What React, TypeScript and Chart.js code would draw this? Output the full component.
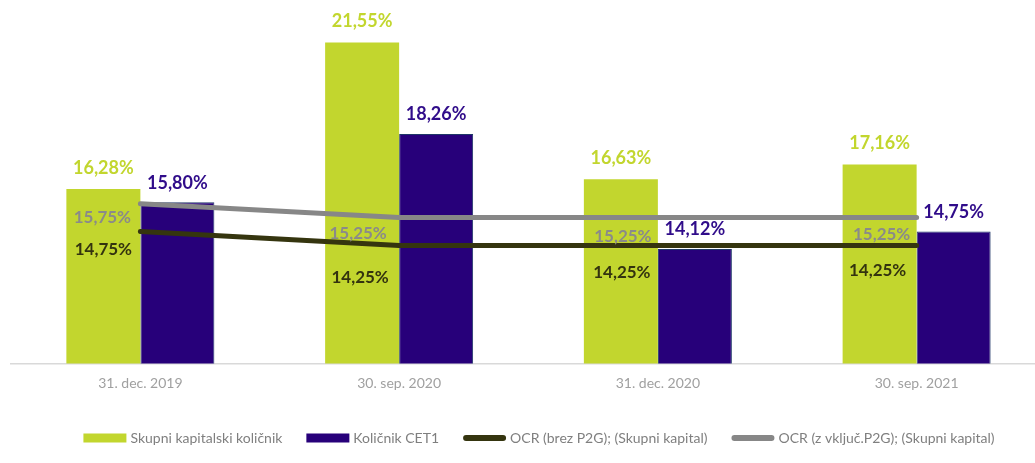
import React, { useEffect, useRef } from 'react';
import { Chart, registerables } from 'chart.js';

Chart.register(...registerables);

const categories = ['31. dec. 2019', '30. sep. 2020', '31. dec. 2020', '30. sep. 2021'];
const skupniKapitalski = [16.28, 21.55, 16.63, 17.16];
const kolicnikCET1 = [15.8, 18.26, 14.12, 14.75];
const ocrBrezP2G = [14.75, 14.25, 14.25, 14.25];
const ocrVkljP2G = [15.75, 15.25, 15.25, 15.25];
const yAxisMin = 10;
const yAxisMax = 22;

const FONT = 'Lato, "Open Sans", sans-serif';
const GREEN = '#c2d62e';
const BLUE = '#27007a';
const GRAY = '#878787';
const DARK = '#35350f';

const fmt = (v: number) => v.toFixed(2).replace('.', ',') + '%';

const valueLabels = {
  id: 'valueLabels',
  afterDatasetsDraw(chart: any, _args: any, opts: any) {
    const ctx = chart.ctx;
    const styles = opts.styles || [];
    chart.data.datasets.forEach((ds: any, di: number) => {
      const st = styles[di];
      const meta = chart.getDatasetMeta(di);
      if (!st || meta.hidden) return;
      meta.data.forEach((el: any, i: number) => {
        const v = ds.data[i];
        const off = st.offsets ? st.offsets[i] : [0, st.dy];
        ctx.save();
        ctx.font = st.font;
        ctx.fillStyle = st.color;
        ctx.textAlign = 'center';
        ctx.textBaseline = 'middle';
        ctx.fillText(fmt(v), el.x + off[0], el.y + off[1]);
        ctx.restore();
      });
    });
  },
};

const bottomLegend = {
  id: 'bottomLegend',
  afterDraw(chart: any, _args: any, opts: any) {
    const ctx = chart.ctx;
    ctx.save();
    ctx.font = opts.font;
    const items = chart.data.datasets.map((ds: any) => ({
      text: ds.label,
      color: ds.type === 'line' ? ds.borderColor : ds.backgroundColor,
      line: ds.type === 'line',
    }));
    const widths = items.map((it: any) => opts.boxWidth + opts.textGap + ctx.measureText(it.text).width);
    const total = widths.reduce((a: number, b: number) => a + b, 0) + opts.itemGap * (items.length - 1);
    let x = opts.centerX - total / 2;
    items.forEach((it: any, i: number) => {
      if (it.line) {
        ctx.strokeStyle = it.color;
        ctx.lineWidth = opts.lineHeight;
        ctx.lineCap = 'round';
        ctx.beginPath();
        ctx.moveTo(x + opts.lineHeight / 2, opts.y);
        ctx.lineTo(x + opts.boxWidth - opts.lineHeight / 2, opts.y);
        ctx.stroke();
      } else {
        ctx.fillStyle = it.color;
        ctx.fillRect(x, opts.y - opts.boxHeight / 2, opts.boxWidth, opts.boxHeight);
      }
      ctx.fillStyle = opts.color;
      ctx.textAlign = 'left';
      ctx.textBaseline = 'middle';
      ctx.fillText(it.text, x + opts.boxWidth + opts.textGap, opts.y);
      x += widths[i] + opts.itemGap;
    });
    ctx.restore();
  },
};

export default function App() {
  const ref = useRef<HTMLCanvasElement>(null);

  useEffect(() => {
    if (!ref.current) return;
    const chart = new Chart(ref.current, {
      type: 'bar',
      data: {
        labels: categories,
        datasets: [
          {
            type: 'bar',
            label: 'Skupni kapitalski količnik',
            data: skupniKapitalski,
            backgroundColor: GREEN,
            borderWidth: 0,
            order: 1,
          },
          {
            type: 'bar',
            label: 'Količnik CET1',
            data: kolicnikCET1,
            backgroundColor: BLUE,
            borderColor: '#1f3868',
            borderWidth: 1,
            order: 1,
          },
          {
            type: 'line',
            label: 'OCR (brez P2G); (Skupni kapital)',
            data: ocrBrezP2G,
            borderColor: DARK,
            backgroundColor: DARK,
            borderWidth: 5,
            pointRadius: 0,
            tension: 0,
            borderCapStyle: 'round',
            order: 0,
          },
          {
            type: 'line',
            label: 'OCR (z vključ.P2G); (Skupni kapital)',
            data: ocrVkljP2G,
            borderColor: GRAY,
            backgroundColor: GRAY,
            borderWidth: 5,
            pointRadius: 0,
            tension: 0,
            borderCapStyle: 'round',
            order: 0,
          },
        ] as any,
      },
      options: {
        animation: false,
        responsive: false,
        devicePixelRatio: 1,
        layout: { padding: { left: 11, right: 0, top: 30, bottom: 59.5 } },
        datasets: { bar: { categoryPercentage: 0.572, barPercentage: 1 } },
        scales: {
          x: {
            grid: { display: false, drawTicks: false, tickLength: 0 },
            border: { display: true, color: '#d9d9d9', width: 1.5 },
            ticks: {
              color: '#a0a0a0',
              font: { family: FONT, size: 14 },
              padding: 12,
              maxRotation: 0,
              autoSkip: false,
            },
            afterFit: (s: any) => {
              s.height = 40;
            },
          },
          y: { display: false, min: yAxisMin, max: yAxisMax },
        },
        plugins: {
          legend: { display: false },
          tooltip: { enabled: false },
          valueLabels: {
            styles: [
              { font: `bold 18px ${FONT}`, color: GREEN, dy: -21 },
              { font: `bold 18px ${FONT}`, color: '#300c8a', dy: -19.5 },
              {
                font: `bold 17px ${FONT}`,
                color: '#33330f',
                offsets: [[-37, 18], [-39, 32], [-36, 27], [-39, 25]],
              },
              {
                font: `bold 17px ${FONT}`,
                color: '#8a8a8a',
                offsets: [[-38, 14], [-41, 16], [-35, 19], [-35, 17]],
              },
            ],
          },
          bottomLegend: {
            font: `14px ${FONT}`,
            color: '#7f7f7f',
            boxWidth: 43,
            boxHeight: 9,
            lineHeight: 6,
            textGap: 4,
            itemGap: 24,
            centerX: 539,
            y: 438,
          },
        } as any,
      },
      plugins: [valueLabels, bottomLegend],
    });
    return () => chart.destroy();
  }, []);

  return (
    <div style={{ position: 'absolute', left: 0, top: 0, width: 1035, height: 463, overflow: 'hidden', background: '#fff' }}>
      <canvas ref={ref} width={1046} height={463} style={{ width: 1046, height: 463, display: 'block' }} />
    </div>
  );
}
